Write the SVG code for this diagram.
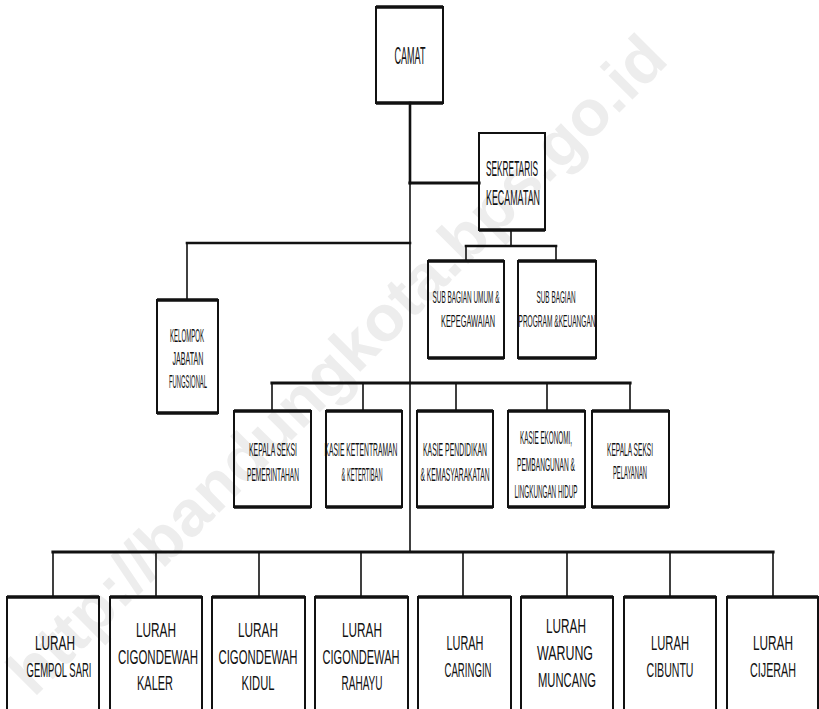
<svg xmlns="http://www.w3.org/2000/svg" width="819" height="709" viewBox="0 0 819 709">
<style>
.bg{fill:#ffffff}
.wm{font-family:"Liberation Sans",Arial,sans-serif;font-weight:bold;font-size:64px;fill:#ededed}
.box{fill:none;stroke:#111;stroke-width:2}
.edge{fill:none;stroke:#111;stroke-width:3.5}
.t{font-family:"Liberation Sans",Arial,sans-serif;fill:#111;text-anchor:middle}
.f24{font-size:24px}.f22{font-size:22px}.f19{font-size:19px}.f17{font-size:17px}.f18{font-size:18px}.f21{font-size:21px}
.c{fill:none;stroke:#111;stroke-linecap:square}
.thin{stroke-width:1.6}
.mid{stroke-width:2.6}
.bus{stroke-width:3.2}
</style>
<rect class="bg" x="0" y="0" width="819" height="709"/>
<text class="wm" transform="translate(352,380) rotate(-45)" text-anchor="middle" textLength="900" lengthAdjust="spacingAndGlyphs">http://bandungkota.bps.go.id</text>

<g id="connectors">
  <path class="c mid" d="M410,103 V183"/>
  <path class="c bus" d="M410,183 H479"/>
  <path class="c thin" d="M410,183 V552"/>
  <path class="c mid" d="M187,243 H410"/>
  <path class="c thin" d="M187,243 V300"/>
  <path class="c thin" d="M511,230 V246"/>
  <path class="c mid" d="M466,246 H556"/>
  <path class="c thin" d="M466,246 V261 M556,246 V261"/>
  <path class="c bus" d="M272,383 H630"/>
  <path class="c thin" d="M272,383 V411 M363,383 V411 M456,383 V411 M547,383 V411 M630,383 V411"/>
  <path class="c bus" d="M53,552 H773"/>
  <path class="c thin" d="M53,552 V597 M156,552 V597 M259,552 V597 M361,552 V597 M463,552 V597 M567,552 V597 M670,552 V597 M773,552 V597"/>
</g>

<g id="camat">
  <rect class="box" x="376" y="7" width="67" height="96"/>
  <path class="edge" d="M376,7 H443 M376,103 H443"/>
  <text class="t f24" x="410" y="64" textLength="31" lengthAdjust="spacingAndGlyphs">CAMAT</text>
</g>

<g id="sekretaris">
  <rect class="box" x="479" y="133" width="66" height="97"/>
  <path class="edge" d="M479,230 H545"/>
  <text class="t f22" x="512" y="176" textLength="52" lengthAdjust="spacingAndGlyphs">SEKRETARIS</text>
  <text class="t f22" x="513" y="205" textLength="54" lengthAdjust="spacingAndGlyphs">KECAMATAN</text>
</g>

<g id="kelompok">
  <rect class="box" x="157" y="300" width="61" height="113"/>
  <path class="edge" d="M157,300 H218 M157,413 H218"/>
  <text class="t f19" x="187" y="342" textLength="34" lengthAdjust="spacingAndGlyphs">KELOMPOK</text>
  <text class="t f19" x="188" y="365" textLength="31" lengthAdjust="spacingAndGlyphs">JABATAN</text>
  <text class="t f19" x="188" y="388" textLength="38" lengthAdjust="spacingAndGlyphs">FUNGSIONAL</text>
</g>

<g id="subbag-umum">
  <rect class="box" x="428" y="261" width="76" height="97"/>
  <path class="edge" d="M428,261 H504 M428,358 H504"/>
  <text class="t f17" x="466" y="303" textLength="67" lengthAdjust="spacingAndGlyphs">SUB BAGIAN UMUM &amp;</text>
  <text class="t f17" x="468" y="327" textLength="54" lengthAdjust="spacingAndGlyphs">KEPEGAWAIAN</text>
</g>

<g id="subbag-program">
  <rect class="box" x="518" y="261" width="78" height="97"/>
  <path class="edge" d="M518,261 H596 M518,358 H596"/>
  <text class="t f17" x="556" y="303" textLength="39" lengthAdjust="spacingAndGlyphs">SUB BAGIAN</text>
  <text class="t f17" x="557" y="327" textLength="77" lengthAdjust="spacingAndGlyphs">PROGRAM &amp;KEUANGAN</text>
</g>

<g id="kasie-pemerintahan">
  <rect class="box" x="234" y="411" width="77" height="96"/>
  <path class="edge" d="M234,411 H311 M234,507 H311"/>
  <text class="t f18" x="273" y="456" textLength="48" lengthAdjust="spacingAndGlyphs">KEPALA SEKSI</text>
  <text class="t f18" x="273" y="481" textLength="52" lengthAdjust="spacingAndGlyphs">PEMERINTAHAN</text>
</g>

<g id="kasie-ketentraman">
  <rect class="box" x="326" y="411" width="76" height="96"/>
  <path class="edge" d="M326,411 H402 M326,507 H402"/>
  <text class="t f18" x="361" y="456" textLength="73" lengthAdjust="spacingAndGlyphs">KASIE KETENTRAMAN</text>
  <text class="t f18" x="362" y="481" textLength="41" lengthAdjust="spacingAndGlyphs">&amp; KETERTIBAN</text>
</g>

<g id="kasie-pendidikan">
  <rect class="box" x="417" y="411" width="76" height="96"/>
  <path class="edge" d="M417,411 H493 M417,507 H493"/>
  <text class="t f18" x="455" y="456" textLength="64" lengthAdjust="spacingAndGlyphs">KASIE PENDIDIKAN</text>
  <text class="t f18" x="455" y="481" textLength="69" lengthAdjust="spacingAndGlyphs">&amp; KEMASYARAKATAN</text>
</g>

<g id="kasie-ekonomi">
  <rect class="box" x="508" y="411" width="77" height="96"/>
  <path class="edge" d="M508,411 H585 M508,507 H585"/>
  <text class="t f18" x="546" y="444" textLength="52" lengthAdjust="spacingAndGlyphs">KASIE EKONOMI,</text>
  <text class="t f18" x="546" y="471" textLength="58" lengthAdjust="spacingAndGlyphs">PEMBANGUNAN &amp;</text>
  <text class="t f18" x="546" y="498" textLength="63" lengthAdjust="spacingAndGlyphs">LINGKUNGAN HIDUP</text>
</g>

<g id="kasie-pelayanan">
  <rect class="box" x="592" y="411" width="77" height="96"/>
  <path class="edge" d="M592,411 H669 M592,507 H669"/>
  <text class="t f18" x="630" y="456" textLength="46" lengthAdjust="spacingAndGlyphs">KEPALA SEKSI</text>
  <text class="t f18" x="630" y="479" textLength="34" lengthAdjust="spacingAndGlyphs">PELAYANAN</text>
</g>

<g id="lurah-gempol-sari">
  <rect class="box" x="7" y="597" width="92" height="120"/>
  <path class="edge" d="M7,597 H99"/>
  <text class="t f21" x="55" y="650" textLength="40" lengthAdjust="spacingAndGlyphs">LURAH</text>
  <text class="t f21" x="59" y="677" textLength="65" lengthAdjust="spacingAndGlyphs">GEMPOL SARI</text>
</g>

<g id="lurah-cigondewah-kaler">
  <rect class="box" x="110" y="597" width="92" height="120"/>
  <path class="edge" d="M110,597 H202"/>
  <text class="t f21" x="156" y="637" textLength="40" lengthAdjust="spacingAndGlyphs">LURAH</text>
  <text class="t f21" x="158" y="664" textLength="80" lengthAdjust="spacingAndGlyphs">CIGONDEWAH</text>
  <text class="t f21" x="155" y="690" textLength="36" lengthAdjust="spacingAndGlyphs">KALER</text>
</g>

<g id="lurah-cigondewah-kidul">
  <rect class="box" x="212" y="597" width="93" height="120"/>
  <path class="edge" d="M212,597 H305"/>
  <text class="t f21" x="258" y="637" textLength="40" lengthAdjust="spacingAndGlyphs">LURAH</text>
  <text class="t f21" x="258" y="664" textLength="79" lengthAdjust="spacingAndGlyphs">CIGONDEWAH</text>
  <text class="t f21" x="258" y="690" textLength="33" lengthAdjust="spacingAndGlyphs">KIDUL</text>
</g>

<g id="lurah-cigondewah-rahayu">
  <rect class="box" x="315" y="597" width="93" height="120"/>
  <path class="edge" d="M315,597 H408"/>
  <text class="t f21" x="362" y="637" textLength="40" lengthAdjust="spacingAndGlyphs">LURAH</text>
  <text class="t f21" x="361" y="664" textLength="77" lengthAdjust="spacingAndGlyphs">CIGONDEWAH</text>
  <text class="t f21" x="362" y="690" textLength="41" lengthAdjust="spacingAndGlyphs">RAHAYU</text>
</g>

<g id="lurah-caringin">
  <rect class="box" x="418" y="597" width="93" height="120"/>
  <path class="edge" d="M418,597 H511"/>
  <text class="t f21" x="465" y="650" textLength="37" lengthAdjust="spacingAndGlyphs">LURAH</text>
  <text class="t f21" x="468" y="677" textLength="47" lengthAdjust="spacingAndGlyphs">CARINGIN</text>
</g>

<g id="lurah-warung-muncang">
  <rect class="box" x="521" y="597" width="92" height="120"/>
  <path class="edge" d="M521,597 H613"/>
  <text class="t f21" x="566" y="633" textLength="40" lengthAdjust="spacingAndGlyphs">LURAH</text>
  <text class="t f21" x="565" y="660" textLength="56" lengthAdjust="spacingAndGlyphs">WARUNG</text>
  <text class="t f21" x="567" y="687" textLength="58" lengthAdjust="spacingAndGlyphs">MUNCANG</text>
</g>

<g id="lurah-cibuntu">
  <rect class="box" x="624" y="597" width="92" height="120"/>
  <path class="edge" d="M624,597 H716"/>
  <text class="t f21" x="670" y="650" textLength="38" lengthAdjust="spacingAndGlyphs">LURAH</text>
  <text class="t f21" x="670" y="677" textLength="47" lengthAdjust="spacingAndGlyphs">CIBUNTU</text>
</g>

<g id="lurah-cijerah">
  <rect class="box" x="727" y="597" width="91" height="120"/>
  <path class="edge" d="M727,597 H818"/>
  <text class="t f21" x="773" y="650" textLength="40" lengthAdjust="spacingAndGlyphs">LURAH</text>
  <text class="t f21" x="773" y="677" textLength="46" lengthAdjust="spacingAndGlyphs">CIJERAH</text>
</g>
</svg>
